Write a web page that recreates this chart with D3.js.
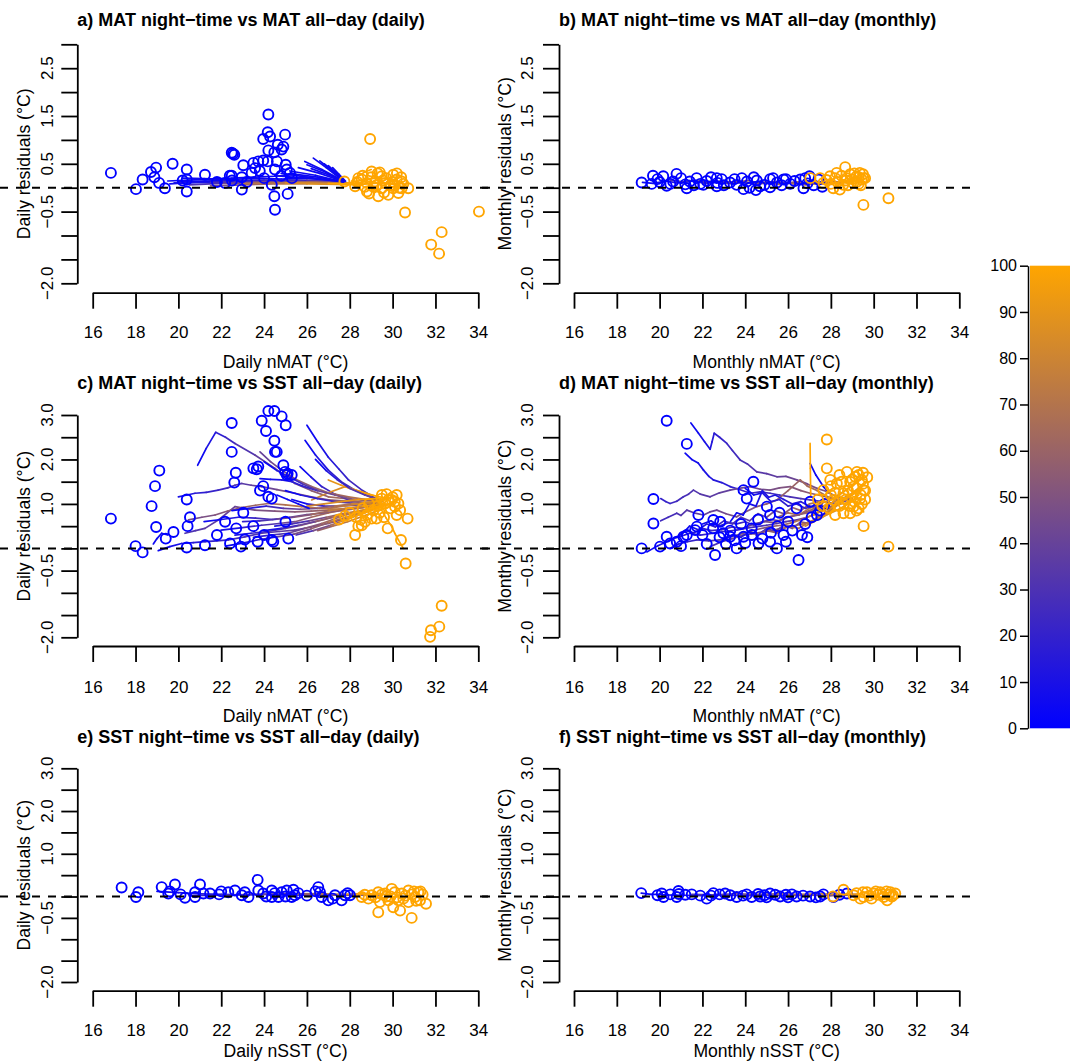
<!DOCTYPE html>
<html>
<head>
<meta charset="utf-8">
<script src="https://cdn.jsdelivr.net/npm/d3@7"></script>
<style>
  body { margin: 0; background: #fff; }
  text { font-family: "Liberation Sans", Arial, Helvetica, sans-serif; fill: #000; }
</style>
</head>
<body>
<script>
// ---- data (x = night-time temperature, y = residual) ----
let xTicks = [16, 18, 20, 22, 24, 26, 28, 30, 32, 34];
let yTicks = [-2, -1.5, -1, -0.5, 0, 0.5, 1, 1.5, 2, 2.5, 3];
let yLabelsTop = [[2.5, "2.5"], [1.5, "1.5"], [0.5, "0.5"], [-0.5, "\u22120.5"], [-2, "\u22122.0"]];
let yLabelsRest = [[3, "3.0"], [2, "2.0"], [1, "1.0"], [-0.5, "\u22120.5"], [-2, "\u22122.0"]];
let barTicks = [0, 10, 20, 30, 40, 50, 60, 70, 80, 90, 100];

let aBlue = [[16.85,0.31],[18.02,-0.03],[18.33,0.17],[18.72,0.33],[18.96,0.42],[18.88,0.22],[19.1,0.1],[19.37,-0.01],[19.73,0.5],[20.39,0.38],[20.39,-0.08],[20.39,0.17],[21.24,0.27],[22.49,0.73],[22.61,0.69],[22.55,0.71],[22.96,-0.04],[23.03,0.47],[22.49,0.25],[22.96,0.22],[23.5,0.52],[23.73,0.55],[23.96,0.57],[24.17,0.55],[23.58,0.41],[23.42,0.31],[24.2,1.53],[24.17,1.16],[23.96,1.02],[24.28,1.07],[24.98,1.11],[24.64,0.9],[24.9,0.86],[24.82,0.8],[24.2,0.78],[24.48,0.74],[24.51,0.38],[25.01,0.48],[25.06,0.38],[25.21,0.31],[24.36,0.06],[24.48,-0.18],[25.1,-0.13],[24.51,-0.46],[22.18,0.1],[20.2,0.15],[22.5,0.15],[23.2,0.12],[24.0,0.2],[24.8,0.25],[25.3,0.2],[21.8,0.12],[23.8,0.35],[24.6,0.55],[22.4,0.25]];
let aOrange = [[28.95,1.02],[27.75,0.13],[28.25,0.03],[28.8,-0.08],[29.33,-0.18],[29.8,-0.15],[30.27,-0.11],[29.02,0.34],[29.49,0.24],[30.03,0.27],[30.19,0.17],[30.42,0.13],[29.65,0.1],[29.18,0.13],[28.56,0.17],[30.42,-0.01],[30.03,-0.01],[29.49,-0.01],[28.8,0.1],[30.73,-0.01],[30.58,-0.52],[34.03,-0.5],[32.29,-0.93],[31.8,-1.19],[32.17,-1.38],[29.3,0.3],[29.7,0.2],[28.6,0.25],[30.1,0.05],[29.1,0.02],[28.4,0.2],[28.7,0.02],[29.0,0.22],[29.25,0.05],[29.55,0.15],[29.9,0.05],[30.2,0.3],[30.4,0.22],[28.9,-0.12],[29.6,-0.1],[30.0,0.12],[30.3,0.0],[29.4,0.32],[28.35,0.12],[30.5,0.08]];
let aLines = [
  {c:[5,5], p:[[19.5,0.14],[20.5,0.16],[21.5,0.18],[22.5,0.2],[23.5,0.22],[24.5,0.24],[25.5,0.28],[26.5,0.22],[27.7,0.13]]},
  {c:[5,5], p:[[20.2,0.2],[21.2,0.19],[22.4,0.17],[23.6,0.2],[24.8,0.18],[26,0.2],[27.7,0.12]]},
  {c:[5,10], p:[[19.6,0.08],[21,0.12],[22.5,0.14],[24,0.15],[25.5,0.15],[27,0.13],[27.8,0.11]]},
  {c:[30,90], p:[[20.5,0.06],[22,0.09],[23.5,0.1],[25,0.11],[26.5,0.1],[28,0.08]]},
  {c:[50,100], p:[[21.5,0.04],[23,0.06],[24.5,0.08],[26,0.08],[27.5,0.07],[28.5,0.06]]},
  {c:[60,100], p:[[22,0.12],[24,0.13],[26,0.12],[28,0.1]]},
  {c:[5,30], p:[[20.0,0.12],[22,0.15],[24,0.16],[26,0.16],[27.8,0.12]]},
  {c:[10,60], p:[[19.8,0.1],[21.5,0.11],[23.5,0.13],[25.5,0.13],[27.8,0.1]]},
  {c:[70,100], p:[[23,0.09],[25,0.1],[27,0.09],[28.5,0.08]]},
  {c:[5,5], p:[[26.3,0.62],[26.9,0.42],[27.3,0.28],[27.7,0.14]]},
  {c:[5,5], p:[[26.6,0.56],[27.1,0.38],[27.7,0.14]]},
  {c:[5,5], p:[[26.0,0.48],[26.8,0.34],[27.7,0.13]]},
  {c:[5,5], p:[[25.6,0.42],[26.6,0.3],[27.7,0.13]]},
  {c:[5,5], p:[[25.2,0.35],[26.4,0.26],[27.7,0.12]]},
  {c:[5,5], p:[[26.8,0.5],[27.3,0.33],[27.75,0.14]]},
  {c:[5,5], p:[[24.8,0.3],[26.0,0.22],[27.7,0.12]]},
  {c:[5,5], p:[[27.0,0.46],[27.4,0.3],[27.75,0.13]]},
  {c:[5,5], p:[[25.9,0.55],[26.7,0.38],[27.7,0.14]]},
  {c:[5,5], p:[[26.2,0.4],[27.0,0.27],[27.7,0.13]]},
  {c:[5,5], p:[[27.2,0.42],[27.5,0.28],[27.8,0.14]]},
  {c:[5,5], p:[[24.5,0.25],[26.0,0.2],[27.7,0.13]]},
  {c:[100,100], p:[[28.1,0.14],[28.4,0.24],[28.7,0.33],[29.0,0.38]]},
  {c:[100,100], p:[[28.0,0.1],[28.6,0.16],[29.2,0.2],[29.8,0.18],[30.3,0.12]]},
  {c:[100,100], p:[[28.2,0.05],[28.8,0.08],[29.5,0.1],[30.2,0.06]]}
];

let bBlue = [[19.16,0.11],[19.63,0.08],[20.17,0.24],[20.79,0.29],[20.33,0.04],[21.27,-0.01],[21.73,0.2],[22.67,0.2],[22.67,0.03],[23.84,0.2],[23.92,-0.03],[24.54,0.15],[25.16,0.18],[25.79,0.17],[26.57,0.17],[26.72,-0.01],[27.42,0.17],[25.16,0.01],[24.69,0.03],[22.04,0.06],[23.29,0.11],[26.1,0.08],[25.48,0.11],[24.08,0.13],[21.41,0.13],[20.63,0.13],[19.69,0.25],[22.9,0.18],[21.9,0.08],[27.2,0.05],[19.9,0.18],[20.5,0.08],[21.0,0.2],[21.6,0.05],[22.2,0.14],[22.4,0.22],[23.0,0.05],[23.5,0.18],[24.2,0.0],[24.4,0.22],[24.9,0.06],[25.3,0.2],[25.7,0.05],[26.3,0.14],[26.9,0.09],[27.6,0.02],[27.0,0.24],[23.6,0.06],[21.2,0.07],[20.0,0.12],[22.7,0.1],[25.9,0.18],[26.8,0.2],[24.5,-0.05]];
let bOrange = [[27.04,0.2],[28.67,0.43],[29.52,-0.36],[30.69,-0.22],[27.96,0.24],[28.27,0.31],[28.74,0.2],[29.21,0.24],[29.44,0.17],[29.05,0.1],[28.58,0.06],[28.11,-0.01],[28.42,-0.04],[27.65,0.1],[29.35,0.31],[29.52,0.2],[28.9,0.28],[29.3,0.08],[27.5,0.2],[28.3,0.12],[28.8,0.05],[29.0,0.18],[29.2,0.12],[29.4,0.05],[29.6,0.2],[28.5,0.25],[28.0,0.08],[29.1,0.3],[29.5,0.28],[28.7,0.15],[29.3,0.22],[27.8,0.16],[28.2,0.2]];
let bLines = [
  {c:[5,60], p:[[19.2,0.11],[19.7,0.09],[20.3,0.14],[20.8,0.1],[21.4,0.15],[21.9,0.11],[22.5,0.14],[23.0,0.1],[23.6,0.13],[24.1,0.09],[24.7,0.12],[25.2,0.08],[25.8,0.11],[26.4,0.07],[27.0,0.1],[27.6,0.08]]},
  {c:[30,90], p:[[20.5,0.16],[21.1,0.12],[21.7,0.15],[22.3,0.1],[22.9,0.14],[23.5,0.11],[24.1,0.15],[24.7,0.1],[25.3,0.13],[25.9,0.09],[26.5,0.12],[27.1,0.08],[27.7,0.11],[28.3,0.09],[28.9,0.12]]},
  {c:[40,100], p:[[22.0,0.08],[22.6,0.12],[23.2,0.09],[23.8,0.13],[24.4,0.08],[25.0,0.11],[25.6,0.07],[26.2,0.1],[26.8,0.06],[27.4,0.09],[28.0,0.07],[28.6,0.12],[29.3,0.15]]},
  {c:[20,70], p:[[21.0,0.1],[21.6,0.14],[22.2,0.09],[22.8,0.13],[23.4,0.08],[24.0,0.12],[24.6,0.07],[25.2,0.12],[25.8,0.08],[26.4,0.12],[27.0,0.07],[27.6,0.12],[28.2,0.1]]},
  {c:[60,100], p:[[27.5,0.1],[28.0,0.14],[28.5,0.11],[29.0,0.16],[29.5,0.13]]}
];

let cBlue = [[16.85,0.67],[18.0,0.05],[18.33,-0.09],[19.11,1.75],[18.91,1.4],[18.75,0.95],[18.96,0.48],[19.41,0.22],[19.77,0.37],[20.39,1.1],[20.54,0.7],[20.43,0.5],[20.39,0.02],[21.24,0.07],[22.49,2.82],[22.49,2.17],[22.68,1.7],[22.61,1.48],[23.03,0.8],[22.18,0.6],[22.41,0.11],[22.92,0.04],[23.89,2.87],[24.2,3.09],[24.48,3.09],[24.82,2.97],[25.01,2.77],[24.09,2.64],[24.48,2.42],[24.51,2.17],[24.59,2.17],[24.9,1.87],[24.98,1.72],[25.1,1.68],[23.5,1.8],[23.73,1.84],[23.66,1.78],[23.96,1.4],[23.81,1.3],[24.2,1.16],[24.36,1.12],[25.06,1.65],[25.29,1.65],[24.43,0.15],[24.36,0.19],[25.13,0.22],[23.5,0.5],[24.0,0.3],[23.1,0.2],[21.8,0.3],[22.7,0.45],[25.0,0.6],[23.7,0.15]];
let cOrange = [[28.25,0.3],[28.56,0.52],[28.4,0.5],[28.71,0.6],[29.02,0.67],[29.25,0.67],[27.78,0.73],[29.72,1.22],[30.19,1.2],[29.96,1.09],[29.8,1.09],[30.27,1.01],[30.19,0.75],[30.7,0.67],[29.77,0.45],[30.39,0.19],[30.61,-0.34],[32.29,-1.29],[32.18,-1.76],[31.79,-1.84],[31.75,-1.99],[29.49,1.12],[30.11,0.94],[30.35,0.86],[29.65,1.01],[29.3,0.95],[30.0,1.15],[28.0,0.8],[28.3,0.7],[28.8,0.75],[29.1,0.85],[29.4,0.8],[29.6,0.7],[28.6,0.9],[29.9,0.9],[30.1,1.05],[29.5,1.2],[28.9,1.0],[28.5,0.65],[27.5,0.65]];
let cLines = [
  {c:[5,70], p:[[20.9,1.87],[21.3,2.25],[21.74,2.61],[22.2,2.5],[22.64,2.36],[23.57,2.1],[24.51,1.8],[25.44,1.46],[26.2,1.3],[27.0,1.16],[28.2,1.1],[29.3,1.09]]},
  {c:[5,30], p:[[26.0,2.77],[26.5,2.4],[27.0,2.05],[27.5,1.78],[27.94,1.54],[28.6,1.3],[29.33,1.09]]},
  {c:[5,40], p:[[25.91,2.43],[26.4,2.1],[27.0,1.76],[27.6,1.5],[28.25,1.31],[29.0,1.15],[29.5,1.05]]},
  {c:[5,50], p:[[25.68,1.84],[26.2,1.6],[26.69,1.39],[27.3,1.22],[27.94,1.09],[28.8,1.0],[29.5,1.0]]},
  {c:[40,75], p:[[23.81,2.17],[24.3,1.95],[24.82,1.76],[25.5,1.55],[26.22,1.39],[27.0,1.25],[27.94,1.16],[29.0,1.08],[29.5,1.05]]},
  {c:[10,60], p:[[20.0,1.16],[20.4,1.2],[20.78,1.24],[21.3,1.26],[21.86,1.31],[22.3,1.36],[22.64,1.42],[22.96,1.46],[23.4,1.42],[23.89,1.39],[24.6,1.32],[25.44,1.24],[26.2,1.16],[27.0,1.09],[28.2,1.05],[29.4,1.02]]},
  {c:[30,65], p:[[20.31,0.34],[20.8,0.4],[21.24,0.45],[21.9,0.65],[22.64,0.94],[23.1,0.9],[23.57,0.86],[24.5,0.84],[25.44,0.82],[26.2,0.84],[27.0,0.86],[28.0,0.9],[29.4,0.95]]},
  {c:[45,85], p:[[20.47,0.64],[21.1,0.7],[21.71,0.75],[22.3,0.84],[22.96,0.92],[23.6,0.97],[24.2,1.01],[25.0,0.98],[25.75,0.94],[26.6,0.9],[27.5,0.88],[28.6,0.92],[29.5,0.98]]},
  {c:[5,55], p:[[19.06,-0.05],[19.6,0.04],[20.15,0.11],[20.7,0.13],[21.24,0.15],[21.8,0.17],[22.33,0.19],[23.1,0.26],[23.89,0.34],[24.7,0.38],[25.44,0.41],[26.2,0.48],[27.0,0.56],[27.8,0.67],[28.56,0.79],[29.4,0.95]]},
  {c:[5,5], p:[[18.83,0.1],[19.0,0.22],[19.22,0.34],[19.5,0.3]]},
  {c:[10,95], p:[[21.99,0.41],[22.9,0.46],[23.89,0.52],[24.7,0.56],[25.44,0.6],[26.2,0.7],[27.0,0.8],[27.8,0.88],[28.56,0.94],[29.5,1.05]]},
  {c:[10,100], p:[[22.64,0.3],[23.4,0.34],[24.2,0.38],[25.0,0.45],[25.75,0.52],[26.5,0.62],[27.31,0.71],[28.1,0.79],[28.87,0.86],[29.7,1.0]]},
  {c:[20,95], p:[[23.5,0.25],[24.3,0.3],[25.13,0.34],[25.9,0.45],[26.69,0.56],[27.5,0.7],[28.25,0.82],[29.0,0.9],[29.6,0.98]]},
  {c:[100,100], p:[[29.49,0.86],[29.7,0.68],[29.96,0.49],[30.1,0.34],[30.27,0.19],[30.5,0.0]]},
  {c:[80,95], p:[[26.22,1.09],[27.0,1.25],[27.78,1.39],[28.5,1.28],[29.33,1.16]]},
  {c:[90,100], p:[[27.0,1.54],[27.6,1.42],[28.25,1.31],[29.0,1.2],[29.5,1.15]]},
  {c:[5,20], p:[[23.81,1.57],[24.3,1.55],[24.82,1.54],[25.3,1.5],[25.8,1.4],[26.5,1.3]]},
  {c:[5,70], p:[[21.2,0.6],[22.0,0.65],[22.8,0.7],[23.6,0.68],[24.4,0.65],[25.2,0.7],[26.0,0.76],[26.8,0.8],[27.6,0.85],[28.4,0.9],[29.2,0.96]]},
  {c:[5,90], p:[[22.2,0.05],[23.0,0.12],[23.8,0.2],[24.6,0.26],[25.4,0.32],[26.2,0.44],[27.0,0.58],[27.8,0.7],[28.6,0.82],[29.4,0.92]]},
  {c:[15,90], p:[[24.5,0.5],[25.3,0.55],[26.1,0.62],[26.9,0.7],[27.7,0.78],[28.5,0.85],[29.3,0.92]]},
  {c:[5,50], p:[[25.3,1.1],[26.0,1.0],[26.8,0.95],[27.6,0.95],[28.4,0.98],[29.2,1.0]]},
  {c:[60,100], p:[[26.5,0.4],[27.2,0.5],[27.9,0.6],[28.6,0.72],[29.3,0.85],[29.9,0.95]]},
  {c:[5,60], p:[[24.0,1.95],[24.6,1.75],[25.2,1.6],[25.8,1.45],[26.5,1.3],[27.3,1.2],[28.2,1.1],[29.3,1.05]]},
  {c:[5,40], p:[[26.4,2.0],[26.9,1.75],[27.4,1.55],[28.0,1.35],[28.7,1.2],[29.4,1.08]]},
  {c:[5,45], p:[[25.0,1.3],[25.7,1.2],[26.5,1.12],[27.3,1.05],[28.1,1.02],[29.0,1.0]]},
  {c:[20,95], p:[[23.0,0.6],[23.8,0.62],[24.6,0.66],[25.4,0.7],[26.2,0.76],[27.0,0.84],[27.8,0.9],[28.6,0.95],[29.4,1.0]]},
  {c:[10,100], p:[[24.0,0.4],[24.8,0.45],[25.6,0.52],[26.4,0.6],[27.2,0.7],[28.0,0.78],[28.8,0.88],[29.6,0.98]]},
  {c:[30,100], p:[[25.5,0.3],[26.3,0.4],[27.1,0.52],[27.9,0.66],[28.7,0.8],[29.5,0.95]]},
  {c:[70,100], p:[[27.0,0.9],[27.7,0.95],[28.4,1.0],[29.1,1.05],[29.8,1.1]]},
  {c:[80,100], p:[[26.0,0.95],[26.8,1.0],[27.6,1.05],[28.4,1.1],[29.2,1.12],[29.9,1.15]]},
  {c:[90,100], p:[[27.5,0.6],[28.1,0.7],[28.7,0.8],[29.3,0.9],[29.9,1.0]]},
  {c:[5,80], p:[[22.5,0.85],[23.3,0.9],[24.1,0.95],[24.9,0.9],[25.7,0.88],[26.5,0.9],[27.3,0.95],[28.1,1.0],[29.0,1.02]]},
  {c:[5,5], p:[[24.6,1.2],[25.1,1.1],[25.6,1.0],[26.1,0.9]]}
];

let dBlue = [[20.33,2.87],[21.27,2.35],[19.71,1.11],[19.71,0.56],[19.16,0.0],[20.02,0.04],[20.49,0.11],[20.8,0.15],[21.27,0.3],[21.74,0.49],[21.81,0.75],[22.59,-0.15],[22.51,0.64],[22.83,0.6],[23.6,0.0],[23.92,1.31],[24.07,1.12],[24.38,1.5],[24.62,0.11],[25.16,0.15],[25.48,0.0],[25.01,0.94],[25.16,0.75],[25.79,0.3],[26.49,-0.26],[26.65,0.3],[22.98,0.34],[23.29,0.26],[23.92,0.26],[24.31,0.3],[21.66,0.41],[20.33,0.26],[21.11,0.26],[27.35,0.75],[27.03,1.05],[24.3,0.45],[25.5,0.5],[26.0,0.6],[22.0,0.3],[23.3,0.4],[22.2,0.1],[22.8,0.25],[23.1,0.1],[23.5,0.18],[24.0,0.12],[24.8,0.22],[25.2,0.35],[25.9,0.15],[26.2,0.4],[26.8,0.55],[27.1,0.7],[27.5,0.85],[27.7,1.0],[24.6,0.65],[25.6,0.8],[26.4,0.9],[21.0,0.05],[22.5,0.45],[23.8,0.55],[26.9,0.25]];
let dOrange = [[27.81,2.45],[27.81,1.8],[30.69,0.04],[29.53,0.5],[28.75,1.72],[29.22,1.72],[29.45,1.54],[29.53,1.31],[29.37,1.12],[29.06,0.94],[28.9,0.79],[28.59,0.79],[28.12,1.09],[28.28,1.46],[27.97,1.54],[27.65,1.31],[29.06,1.39],[29.14,1.61],[28.59,1.24],[29.3,1.65],[28.9,1.5],[29.45,1.0],[28.0,1.2],[28.6,1.0],[29.5,1.45],[27.9,0.9],[28.2,0.75],[28.4,0.95],[28.7,1.1],[28.8,1.3],[29.0,1.55],[29.2,1.35],[29.4,1.2],[29.6,1.3],[29.7,1.6],[29.6,1.1],[29.2,0.85],[28.5,1.5],[28.2,1.25],[27.6,0.95],[28.0,1.4],[28.9,0.95],[29.5,1.7],[29.1,1.05],[27.4,1.1],[28.4,1.65],[29.3,0.9]];
let dLines = [
  {c:[5,55], p:[[21.46,2.82],[21.8,2.6],[22.1,2.4],[22.36,2.23],[22.45,2.4],[22.55,2.59],[22.8,2.5],[23.14,2.36],[23.4,2.2],[23.76,1.99],[24.1,1.9],[24.54,1.72],[25.0,1.68],[25.48,1.61],[25.9,1.62],[26.41,1.54],[26.9,1.45],[27.35,1.35],[27.8,1.28],[28.28,1.16],[28.9,1.12]]},
  {c:[5,35], p:[[21.19,2.14],[21.5,2.0],[21.8,1.92],[22.05,1.76],[22.3,1.62],[22.51,1.54],[22.9,1.48],[23.29,1.39],[23.7,1.33],[24.23,1.24],[24.7,1.27],[25.16,1.24],[25.6,1.2],[26.1,1.16],[26.6,1.12],[27.03,1.09],[27.6,1.05],[28.28,1.01]]},
  {c:[20,60], p:[[20.05,1.12],[20.3,1.05],[20.49,1.01],[20.8,1.06],[21.11,1.16],[21.35,1.22],[21.58,1.31],[21.9,1.22],[22.36,1.16],[22.8,1.25],[23.29,1.31],[23.7,1.35],[24.23,1.39],[24.7,1.33],[25.16,1.31],[25.6,1.36],[26.1,1.39],[26.6,1.3],[27.03,1.24],[27.6,1.18],[28.28,1.1],[29.0,1.12]]},
  {c:[25,70], p:[[20.05,0.62],[20.4,0.7],[20.8,0.79],[21.0,0.74],[21.27,0.86],[21.6,0.8],[22.05,0.75],[22.35,0.82],[22.67,0.86],[23.1,0.78],[23.6,0.71],[24.0,0.82],[24.54,0.94],[25.0,1.0],[25.48,1.09],[26.0,1.3],[26.57,1.54],[26.9,1.4],[27.35,1.3],[27.9,1.15],[28.5,1.05]]},
  {c:[5,5], p:[[27.03,1.91],[27.3,1.65],[27.65,1.39],[27.9,1.25]]},
  {c:[100,100], p:[[27.03,2.36],[27.04,1.8],[27.06,1.16]]},
  {c:[5,45], p:[[19.4,-0.08],[19.7,0.0],[19.92,0.06],[20.2,0.12],[20.49,0.19],[20.9,0.26],[21.42,0.34],[21.9,0.3],[22.51,0.34],[23.0,0.38],[23.6,0.41],[24.0,0.45],[24.54,0.49],[25.0,0.52],[25.48,0.56],[25.9,0.6],[26.41,0.64],[26.9,0.7],[27.35,0.79],[27.8,0.9],[28.28,1.0],[28.9,1.1]]},
  {c:[10,95], p:[[20.49,0.0],[20.9,0.1],[21.3,0.15],[21.74,0.19],[22.3,0.17],[22.83,0.19],[23.3,0.26],[23.92,0.34],[24.5,0.42],[25.16,0.49],[25.7,0.52],[26.2,0.58],[26.7,0.66],[27.2,0.76],[27.66,0.86],[28.2,0.96],[28.9,1.05],[29.4,1.15]]},
  {c:[30,100], p:[[22.36,0.04],[22.9,0.15],[23.4,0.22],[23.9,0.3],[24.4,0.33],[24.85,0.37],[25.5,0.43],[26.1,0.49],[26.7,0.55],[27.35,0.64],[27.8,0.75],[28.28,0.86],[28.8,1.0],[29.3,1.2]]},
  {c:[100,100], p:[[28.59,1.39],[28.8,1.25],[29.0,1.1],[29.25,0.95],[29.53,0.82]]},
  {c:[5,80], p:[[20.8,0.25],[21.2,0.4],[21.6,0.35],[22.0,0.45],[22.4,0.4],[22.9,0.42],[23.4,0.48],[23.9,0.45],[24.4,0.55],[24.9,0.6],[25.4,0.58],[25.9,0.7],[26.4,0.75],[26.9,0.8],[27.4,0.9],[27.9,1.0],[28.4,1.1],[28.9,1.2]]},
  {c:[5,20], p:[[23.3,0.6],[23.6,0.8],[23.9,0.75],[24.2,1.0],[24.5,0.95],[24.8,1.3],[25.1,1.15],[25.4,1.2],[25.8,1.1],[26.2,1.0],[26.6,1.05],[27.0,0.95],[27.5,0.85],[28.0,0.9]]},
  {c:[60,100], p:[[25.5,0.7],[26.0,0.8],[26.5,0.75],[27.0,0.9],[27.5,1.0],[28.0,1.1],[28.5,1.25],[29.0,1.4],[29.3,1.6]]},
  {c:[80,100], p:[[26.8,0.5],[27.2,0.6],[27.6,0.7],[28.0,0.85],[28.4,1.0],[28.8,1.15],[29.2,1.3],[29.6,1.5]]},
  {c:[5,60], p:[[22.0,0.55],[22.4,0.62],[22.8,0.5],[23.2,0.58],[23.6,0.55],[24.0,0.6],[24.4,0.52],[24.8,0.6],[25.2,0.65],[25.6,0.62],[26.0,0.7],[26.5,0.75],[27.0,0.85],[27.5,0.95]]},
  {c:[5,70], p:[[21.0,0.3],[21.4,0.5],[21.8,0.42],[22.2,0.55],[22.6,0.48],[23.0,0.62],[23.4,0.55],[23.8,0.7],[24.2,0.62],[24.6,0.78],[25.0,0.7],[25.4,0.85],[25.8,0.78],[26.2,0.92],[26.6,0.85],[27.0,1.0],[27.5,1.05],[28.0,1.15]]},
  {c:[5,90], p:[[23.0,0.2],[23.4,0.3],[23.8,0.25],[24.2,0.38],[24.6,0.3],[25.0,0.45],[25.4,0.38],[25.8,0.52],[26.2,0.45],[26.6,0.6],[27.0,0.55],[27.4,0.72],[27.8,0.8],[28.2,0.95],[28.6,1.1],[29.0,1.25],[29.4,1.4]]},
  {c:[50,100], p:[[24.5,0.3],[25.0,0.4],[25.5,0.35],[26.0,0.5],[26.5,0.45],[27.0,0.6],[27.5,0.7],[28.0,0.9],[28.5,1.05],[29.0,1.2],[29.5,1.35]]},
  {c:[90,100], p:[[27.2,0.75],[27.6,0.9],[28.0,1.0],[28.4,1.2],[28.8,1.35],[29.2,1.5],[29.6,1.6]]},
  {c:[5,30], p:[[24.0,1.35],[24.4,1.2],[24.8,1.25],[25.2,1.05],[25.6,1.1],[26.0,0.95],[26.4,1.0],[26.8,0.9],[27.2,0.95],[27.6,1.0]]}
];

let eBlue = [[17.35,0.21],[18.13,0.1],[18.02,-0.01],[19.22,0.22],[19.84,0.28],[19.53,0.07],[20.31,-0.03],[20.78,0.1],[21.01,0.28],[21.17,0.07],[21.48,0.07],[20.78,-0.01],[22.33,0.1],[22.64,0.14],[22.96,0.03],[23.27,-0.01],[23.7,0.39],[23.73,0.14],[23.96,0.07],[24.36,0.14],[24.36,-0.01],[24.82,0.1],[25.06,0.14],[25.37,0.16],[25.44,0.03],[25.29,-0.01],[24.67,-0.01],[26.53,0.22],[26.61,0.1],[26.69,-0.01],[27.0,-0.09],[27.31,0.03],[27.62,-0.09],[27.78,0.03],[28.01,0.03],[19.6,0.12],[20.1,0.05],[21.9,0.05],[22.0,0.12],[23.1,0.1],[24.1,0.0],[24.5,0.08],[25.0,0.0],[25.6,0.08],[26.0,0.02],[26.4,0.12],[27.2,-0.05],[27.9,0.08]];
let eOrange = [[28.56,-0.01],[29.02,0.03],[29.33,0.1],[29.41,-0.13],[29.33,-0.37],[29.65,0.07],[29.96,0.18],[30.03,-0.25],[30.35,-0.33],[30.43,0.07],[30.74,0.14],[30.89,-0.5],[31.05,-0.01],[31.2,0.1],[31.28,-0.09],[31.56,-0.17],[30.74,-0.13],[30.27,-0.09],[29.8,-0.09],[28.87,-0.05],[30.6,0.02],[31.0,0.12],[28.7,0.04],[29.2,-0.02],[29.5,0.05],[29.9,0.0],[30.1,0.1],[30.5,-0.05],[30.9,0.05],[31.1,-0.1],[31.4,0.05],[30.2,-0.02],[29.7,0.0],[31.3,0.12]];
let eLines = [
  {c:[5,40], p:[[19.0,0.12],[20.0,0.09],[21.0,0.06],[22.0,0.05],[23.0,0.04],[24.0,0.05],[25.0,0.04],[26.0,0.03],[27.0,0.03],[28.0,0.03],[29.5,0.04]]},
  {c:[20,70], p:[[20.5,0.02],[22.0,0.03],[23.5,0.05],[25.0,0.06],[26.5,0.05],[28.0,0.04],[29.0,0.05]]},
  {c:[60,100], p:[[25.5,0.06],[26.5,0.07],[27.5,0.05],[28.5,0.06],[29.8,0.05]]}
];

let fBlue = [[19.14,0.08],[20.1,0.07],[20.18,-0.01],[20.88,0.13],[20.8,-0.01],[21.5,0.05],[22.2,-0.05],[22.51,0.08],[23.06,0.07],[23.6,-0.01],[24.07,0.05],[24.69,0.0],[25.16,0.07],[25.63,0.0],[26.18,0.05],[27.03,0.0],[27.65,0.05],[28.12,-0.01],[28.75,0.07],[22.4,0.02],[23.3,0.03],[24.9,0.03],[25.9,0.04],[26.4,0.0],[27.3,-0.02],[20.9,0.06],[19.9,0.03],[20.5,0.05],[21.2,0.04],[21.9,0.02],[22.8,0.05],[23.9,0.02],[24.3,-0.01],[25.4,0.04],[25.0,-0.02],[26.7,0.02],[27.5,0.0],[28.4,0.04],[26.0,-0.02],[24.6,0.06]];
let fOrange = [[28.59,0.16],[29.06,0.03],[29.53,-0.01],[30.0,0.07],[30.47,-0.01],[30.78,0.1],[31.01,0.07],[30.31,0.1],[29.69,0.1],[29.38,-0.05],[30.63,-0.09],[28.1,0.0],[30.2,0.04],[30.9,0.03],[29.2,0.08],[29.8,0.02],[30.1,0.12],[30.4,0.05],[30.6,0.12],[30.85,0.0],[29.5,0.1],[29.9,-0.05],[30.7,0.04]];
let fLines = [
  {c:[5,5], p:[[19.14,0.08],[19.6,0.05],[20.1,0.05]]},
  {c:[5,55], p:[[20.1,0.04],[21.0,0.03],[22.0,0.02],[23.0,0.03],[24.0,0.02],[25.0,0.03],[26.0,0.02],[27.0,0.03],[28.0,0.02],[29.3,0.04]]},
  {c:[30,90], p:[[21.5,0.05],[22.5,0.04],[23.5,0.06],[24.5,0.05],[25.5,0.06],[26.5,0.05],[27.5,0.06],[28.5,0.05],[29.5,0.06]]}
];

// ---- layout ----
let cols = [
  {axisX: 77.3, x0: 92.7, x1: 478.3, dash: [0, 490], ylabX: 29.5, ytickX: 53.3},
  {axisX: 559, x0: 574, x1: 959.3, dash: [482, 972], ylabX: 510.8, ytickX: 533.3}
];
let rows = [
  {yBot: 283.3, yTop: 44.3, axisY: 292.7, tickBase: 338, xlabBase: 367.5, titleBase: 26, labels: yLabelsTop},
  {yBot: 637.3, yTop: 415, axisY: 646, tickBase: 692.5, xlabBase: 721.5, titleBase: 389, labels: yLabelsRest},
  {yBot: 982, yTop: 768.3, axisY: 990.7, tickBase: 1036.5, xlabBase: 1057, titleBase: 742.5, labels: yLabelsRest}
];

let panels = [
  {col: 0, row: 0, title: "a) MAT night\u2212time vs MAT all\u2212day (daily)", xlab: "Daily nMAT (\u00B0C)", ylab: "Daily residuals (\u00B0C)", blue: aBlue, orange: aOrange, lines: aLines},
  {col: 1, row: 0, title: "b) MAT night\u2212time vs MAT all\u2212day (monthly)", xlab: "Monthly nMAT (\u00B0C)", ylab: "Monthly residuals (\u00B0C)", blue: bBlue, orange: bOrange, lines: bLines},
  {col: 0, row: 1, title: "c) MAT night\u2212time vs SST all\u2212day (daily)", xlab: "Daily nMAT (\u00B0C)", ylab: "Daily residuals (\u00B0C)", blue: cBlue, orange: cOrange, lines: cLines},
  {col: 1, row: 1, title: "d) MAT night\u2212time vs SST all\u2212day (monthly)", xlab: "Monthly nMAT (\u00B0C)", ylab: "Monthly residuals (\u00B0C)", blue: dBlue, orange: dOrange, lines: dLines},
  {col: 0, row: 2, title: "e) SST night\u2212time vs SST all\u2212day (daily)", xlab: "Daily nSST (\u00B0C)", ylab: "Daily residuals (\u00B0C)", blue: eBlue, orange: eOrange, lines: eLines},
  {col: 1, row: 2, title: "f) SST night\u2212time vs SST all\u2212day (monthly)", xlab: "Monthly nSST (\u00B0C)", ylab: "Monthly residuals (\u00B0C)", blue: fBlue, orange: fOrange, lines: fLines}
];

let colour = d3.scaleLinear().domain([0, 100]).range(["#0000ff", "#ffa500"]);
let tickFont = 17, labFont = 17.6, titleFont = 18;

let svg = d3.select("body").append("svg")
  .attr("width", 1073).attr("height", 1061);

let drawPanel = function (p) {
  let col = cols[p.col], row = rows[p.row];
  let x = d3.scaleLinear().domain([16, 34]).range([col.x0, col.x1]);
  let y = d3.scaleLinear().domain([-2, 3]).range([row.yBot, row.yTop]);
  let g = svg.append("g");

  // trajectories, coloured along their length
  p.lines.forEach(function (l) {
    let n = l.p.length;
    for (let i = 0; i < n - 1; i++) {
      let t = n > 2 ? i / (n - 2) : 0;
      g.append("line")
        .attr("x1", x(l.p[i][0])).attr("y1", y(l.p[i][1]))
        .attr("x2", x(l.p[i + 1][0])).attr("y2", y(l.p[i + 1][1]))
        .attr("stroke", colour(l.c[0] + (l.c[1] - l.c[0]) * t))
        .attr("stroke-width", 1.7)
        .attr("stroke-linecap", "round");
    }
  });

  // circles
  [[p.blue, 0], [p.orange, 100]].forEach(function (set) {
    g.append("g").selectAll("circle")
      .data(set[0]).enter().append("circle")
      .attr("cx", d => x(d[0])).attr("cy", d => y(d[1]))
      .attr("r", 5)
      .attr("fill", "none")
      .attr("stroke", colour(set[1]))
      .attr("stroke-width", 1.9);
  });

  // zero line
  g.append("line")
    .attr("x1", col.dash[0]).attr("x2", col.dash[1])
    .attr("y1", y(0)).attr("y2", y(0))
    .attr("stroke", "#000").attr("stroke-width", 2)
    .attr("stroke-dasharray", "8,8");

  // y axis
  let ya = g.append("g")
    .attr("transform", "translate(" + col.axisX + ",0)")
    .call(d3.axisLeft(y).tickValues(yTicks).tickSize(16).tickSizeOuter(0).tickFormat(""));
  ya.selectAll("path, line").attr("stroke", "#000").attr("stroke-width", 1.8);

  g.selectAll(".ylab")
    .data(row.labels).enter().append("text")
    .attr("transform", d => "translate(" + col.ytickX + "," + y(d[0]) + ") rotate(-90)")
    .attr("text-anchor", "middle")
    .style("font-size", tickFont + "px")
    .text(d => d[1]);

  // x axis
  let pad = row.tickBase - row.axisY - 16 - 0.71 * tickFont;
  let xa = g.append("g")
    .attr("transform", "translate(0," + row.axisY + ")")
    .call(d3.axisBottom(x).tickValues(xTicks).tickSize(16).tickSizeOuter(0).tickPadding(pad));
  xa.selectAll("path, line").attr("stroke", "#000").attr("stroke-width", 1.8);
  xa.selectAll("text")
    .style("font-size", tickFont + "px")
    .style("font-family", "'Liberation Sans', Arial, Helvetica, sans-serif")
    .attr("fill", "#000");

  // labels
  g.append("text")
    .attr("x", (col.x0 + col.x1) / 2).attr("y", row.xlabBase)
    .attr("text-anchor", "middle")
    .style("font-size", labFont + "px")
    .text(p.xlab);

  g.append("text")
    .attr("transform", "translate(" + col.ylabX + "," + ((row.yTop + row.yBot) / 2) + ") rotate(-90)")
    .attr("text-anchor", "middle")
    .style("font-size", labFont + "px")
    .text(p.ylab);

  g.append("text")
    .attr("x", col.axisX).attr("y", row.titleBase)
    .style("font-size", titleFont + "px")
    .style("font-weight", "bold")
    .text(p.title);
};

panels.forEach(drawPanel);

// ---- colour bar ----
let barY = d3.scaleLinear().domain([0, 100]).range([728.3, 265.7]);
let grad = svg.append("defs").append("linearGradient")
  .attr("id", "bar").attr("x1", 0).attr("y1", 1).attr("x2", 0).attr("y2", 0);
grad.selectAll("stop").data([0, 50, 100]).enter().append("stop")
  .attr("offset", d => d + "%")
  .attr("stop-color", d => colour(d));

svg.append("rect")
  .attr("x", 1030).attr("width", 40)
  .attr("y", barY(100)).attr("height", barY(0) - barY(100))
  .attr("fill", "url(#bar)");

let ba = svg.append("g")
  .attr("transform", "translate(1028,0)")
  .call(d3.axisLeft(barY).tickValues(barTicks).tickSize(8).tickSizeOuter(0).tickPadding(3));
ba.selectAll("path, line").attr("stroke", "#000").attr("stroke-width", 1.5);
ba.selectAll("text")
  .style("font-size", "16px")
  .style("font-family", "'Liberation Sans', Arial, Helvetica, sans-serif")
  .attr("fill", "#000");
</script>
</body>
</html>
